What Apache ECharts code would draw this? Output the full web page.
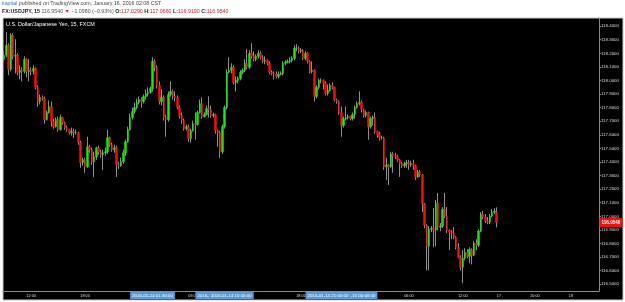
<!DOCTYPE html>
<html>
<head>
<meta charset="utf-8">
<script src="https://cdn.jsdelivr.net/npm/echarts@6/dist/echarts.min.js"></script>
<style>
html, body { margin: 0; padding: 0; background: #fff; }
#main { width: 625px; height: 302px; }
</style>
</head>
<body>
<div id="main"></div>
<script>
// USD/JPY 15 min candles
var opens = [
118.156,118.186,118.260,118.082,118.334,118.178,118.186,118.060,118.075,118.067,
118.156,118.067,118.075,118.067,118.089,117.949,117.845,117.875,117.867,117.712,
117.764,117.808,117.697,117.660,117.712,117.638,117.727,117.690,117.653,117.638,
117.616,117.623,117.616,117.616,117.542,117.394,117.416,117.364,117.512,117.490,
117.401,117.438,117.505,117.475,117.453,117.468,117.475,117.579,117.527,117.490,
117.505,117.379,117.372,117.401,117.468,117.549,117.638,117.727,117.771,117.801,
117.838,117.860,117.845,117.882,117.904,117.912,117.941,118.141,118.097,117.964,
117.845,117.875,117.727,117.712,117.897,117.919,117.882,117.875,117.801,117.742,
117.705,117.645,117.660,117.571,117.631,117.682,117.675,117.764,117.830,117.734,
117.749,117.793,117.786,117.742,117.749,117.631,117.616,117.475,117.660,117.801,
118.060,118.075,118.097,117.986,118.001,118.015,118.060,118.075,118.126,118.097,
118.200,118.178,118.156,118.178,118.200,118.171,118.141,118.149,118.126,118.060,
118.052,118.045,118.030,118.045,118.052,118.126,118.134,118.141,118.149,118.163,
118.237,118.237,118.215,118.223,118.163,118.200,118.141,118.067,118.075,117.882,
117.949,118.001,118.001,117.978,117.904,117.927,117.964,117.949,117.860,117.845,
117.764,117.668,117.719,117.727,117.734,117.719,117.749,117.801,117.830,117.838,
117.786,117.742,117.764,117.660,117.719,117.727,117.623,117.601,117.579,117.579,
117.364,117.379,117.364,117.460,117.446,117.438,117.416,117.386,117.372,117.386,
117.394,117.379,117.386,117.372,117.290,117.327,117.305,117.090,116.935,116.780,
116.905,116.913,116.898,117.098,116.920,116.928,117.053,117.002,116.898,116.883,
116.876,116.846,116.772,116.698,116.624,116.691,116.735,116.706,116.757,116.713,
116.802,116.787,116.891,117.016,116.994,116.965,116.957,117.002,117.031,117.029
];
var closes = [
118.186,118.260,118.082,118.334,118.178,118.186,118.060,118.075,118.067,118.156,
118.067,118.075,118.067,118.089,117.949,117.845,117.875,117.867,117.712,117.764,
117.808,117.697,117.660,117.712,117.638,117.727,117.690,117.653,117.638,117.616,
117.623,117.616,117.616,117.542,117.394,117.416,117.364,117.512,117.490,117.401,
117.438,117.505,117.475,117.453,117.468,117.475,117.579,117.527,117.490,117.505,
117.379,117.372,117.401,117.468,117.549,117.638,117.727,117.771,117.801,117.838,
117.860,117.845,117.882,117.904,117.912,117.941,118.141,118.097,117.964,117.845,
117.875,117.727,117.712,117.897,117.919,117.882,117.875,117.801,117.742,117.705,
117.645,117.660,117.571,117.631,117.682,117.675,117.764,117.830,117.734,117.749,
117.793,117.786,117.742,117.749,117.631,117.616,117.475,117.660,117.801,118.060,
118.075,118.097,117.986,118.001,118.015,118.060,118.075,118.126,118.097,118.200,
118.178,118.156,118.178,118.200,118.171,118.141,118.149,118.126,118.060,118.052,
118.045,118.030,118.045,118.052,118.126,118.134,118.141,118.149,118.163,118.237,
118.237,118.215,118.223,118.163,118.200,118.141,118.067,118.075,117.882,117.949,
118.001,118.001,117.978,117.904,117.927,117.964,117.949,117.860,117.845,117.764,
117.668,117.719,117.727,117.734,117.719,117.749,117.801,117.830,117.838,117.786,
117.742,117.764,117.660,117.719,117.727,117.623,117.601,117.579,117.579,117.364,
117.379,117.364,117.460,117.446,117.438,117.416,117.386,117.372,117.386,117.394,
117.379,117.386,117.372,117.290,117.327,117.305,117.090,116.935,116.780,116.905,
116.913,116.898,117.098,116.920,116.928,117.053,117.002,116.898,116.883,116.876,
116.846,116.772,116.698,116.624,116.691,116.735,116.706,116.757,116.713,116.802,
116.787,116.891,117.016,116.994,116.965,116.957,117.002,117.031,117.039,116.954
];
var highs = [
118.215,118.356,118.274,118.348,118.348,118.304,118.200,118.112,118.097,118.178,
118.163,118.156,118.097,118.112,118.097,117.964,117.897,117.890,117.882,117.779,
117.853,117.845,117.719,117.727,117.734,117.749,117.734,117.697,117.668,117.645,
117.653,117.645,117.638,117.623,117.557,117.431,117.431,117.586,117.527,117.505,
117.475,117.512,117.520,117.490,117.490,117.505,117.638,117.586,117.542,117.527,
117.520,117.401,117.431,117.490,117.564,117.660,117.756,117.801,117.838,117.867,
117.882,117.875,117.897,117.934,117.949,117.956,118.171,118.156,118.112,117.993,
117.934,117.890,117.749,117.919,117.993,117.934,117.919,117.890,117.816,117.764,
117.719,117.675,117.675,117.645,117.705,117.764,117.779,117.860,117.875,117.764,
117.816,117.882,117.816,117.764,117.756,117.638,117.631,117.675,117.816,118.082,
118.171,118.126,118.112,118.030,118.030,118.075,118.089,118.156,118.230,118.223,
118.274,118.215,118.193,118.223,118.215,118.186,118.178,118.156,118.141,118.075,
118.067,118.067,118.067,118.067,118.141,118.149,118.156,118.171,118.178,118.260,
118.267,118.252,118.237,118.230,118.215,118.208,118.149,118.141,118.082,117.964,
118.015,118.015,118.008,117.993,117.971,117.978,117.986,117.956,117.867,117.853,
117.808,117.734,117.808,117.749,117.742,117.764,117.816,117.845,117.919,117.853,
117.793,117.779,117.771,117.734,117.742,117.764,117.631,117.623,117.594,117.586,
117.431,117.386,117.475,117.475,117.468,117.453,117.423,117.401,117.401,117.416,
117.416,117.409,117.416,117.379,117.342,117.342,117.312,117.098,116.942,116.928,
116.928,117.061,117.120,117.172,116.950,117.068,117.172,117.068,116.905,116.898,
116.920,116.854,116.802,116.713,116.750,116.765,116.757,116.772,116.765,116.817,
116.831,116.905,117.031,117.039,117.016,116.994,117.016,117.053,117.061,117.066
];
var lows = [
118.141,118.171,118.038,118.067,118.156,118.052,118.038,118.008,117.993,118.052,
118.023,117.993,118.038,118.045,117.934,117.808,117.823,117.853,117.682,117.705,
117.756,117.660,117.645,117.653,117.623,117.631,117.675,117.638,117.623,117.601,
117.594,117.579,117.601,117.527,117.357,117.372,117.320,117.357,117.468,117.379,
117.290,117.416,117.453,117.431,117.342,117.446,117.460,117.512,117.475,117.468,
117.290,117.349,117.364,117.386,117.446,117.542,117.631,117.712,117.756,117.786,
117.823,117.801,117.830,117.860,117.882,117.904,117.919,118.067,117.941,117.823,
117.816,117.705,117.586,117.697,117.882,117.860,117.845,117.786,117.719,117.682,
117.631,117.631,117.549,117.542,117.623,117.564,117.668,117.756,117.719,117.727,
117.742,117.727,117.727,117.727,117.608,117.512,117.431,117.460,117.645,117.786,
118.052,118.052,117.971,117.919,117.978,118.001,118.045,118.060,118.082,118.082,
118.163,118.141,118.141,118.163,118.156,118.126,118.119,118.112,118.045,118.038,
118.008,118.015,118.015,118.038,118.038,118.112,118.126,118.126,118.134,118.149,
118.215,118.200,118.200,118.149,118.149,118.126,118.052,118.052,117.845,117.867,
117.934,117.978,117.934,117.890,117.890,117.919,117.934,117.845,117.830,117.749,
117.586,117.653,117.705,117.712,117.705,117.705,117.719,117.793,117.816,117.764,
117.727,117.727,117.564,117.645,117.668,117.608,117.579,117.557,117.564,117.342,
117.268,117.231,117.357,117.320,117.423,117.401,117.290,117.357,117.357,117.357,
117.342,117.364,117.342,117.268,117.283,117.290,117.031,116.913,116.602,116.602,
116.883,116.772,116.780,116.898,116.891,116.913,116.987,116.876,116.750,116.831,
116.831,116.757,116.691,116.602,116.506,116.676,116.691,116.654,116.646,116.706,
116.750,116.772,116.883,116.979,116.950,116.942,116.942,116.994,117.016,116.919
];

// price scale ticks
var yTicks = [116.5,116.6,116.7,116.8,116.9,117.0,117.1,117.2,117.3,117.4,
              117.5,117.6,117.7,117.8,117.9,118.0,118.1,118.2,118.3,118.4];

// time scale labels (slot index -> text)
var tickIdx  = [12, 36, 60, 84, 108, 132, 156, 180, 204, 220, 236, 252];
var tickText = ['12:00','18:00','14','06:00','12:00','18:00','15','06:00','12:00','17','20:00','18'];
// highlighted date labels
var hiIdxUnder = [95, 156];
var hiIdxTop   = [66, 101, 144];

var slotCount = 265;

function pad(n){ return n < 10 ? '0' + n : '' + n; }
function fmtTime(t){
    var d = new Date(t);
    return d.getUTCFullYear() + '-' + pad(d.getUTCMonth() + 1) + '-' + pad(d.getUTCDate()) + ' ' +
           pad(d.getUTCHours()) + ':' + pad(d.getUTCMinutes()) + ':00';
}

var times = [];
var t0 = Date.UTC(2016, 0, 13, 9, 0);
var t1 = Date.UTC(2016, 0, 17, 16, 0);
for (var i = 0; i < slotCount; i++) {
    if (i < closes.length) times.push(fmtTime(t0 + i * 900000));
    else times.push(fmtTime(t1 + (i - closes.length) * 900000));
}

// bodies drawn with no shadow, shadows drawn as gray dojis underneath
var bodies = [];
var wicks = [];
for (var i = 0; i < closes.length; i++) {
    bodies.push([opens[i], closes[i], Math.min(opens[i], closes[i]), Math.max(opens[i], closes[i])]);
    wicks.push([opens[i], opens[i], lows[i], highs[i]]);
}

var last = closes.length - 1;
var FONT = 'Liberation Sans, Arial, sans-serif';
var wickColor = '#8f8f8f';
var upColor = '#19e619';
var downColor = '#f01010';

function hiAxis(idxList, z){
    return {
        type: 'category',
        data: times,
        position: 'bottom',
        z: z,
        axisLine: { show: false },
        axisTick: { show: false },
        splitLine: { show: false },
        axisLabel: {
            interval: function(idx){ return idxList.indexOf(idx) >= 0; },
            formatter: function(v){ return v; },
            color: '#fff',
            fontSize: 4.4,
            fontFamily: FONT,
            backgroundColor: '#5b9bd5',
            padding: [2, 2, 1, 2],
            margin: 1
        }
    };
}

var myChart = echarts.init(document.getElementById('main'));
var option = {
    backgroundColor: '#ffffff',
    animation: false,
    graphic: [
        {
            type: 'rect', left: 2.5, top: 17.5, z: -1,
            shape: { width: 620, height: 282 },
            style: { fill: '#000', stroke: '#c8c8c8', lineWidth: 1 }
        },
        {
            type: 'text', left: 2, top: 1,
            style: {
                text: '{k|kapital} published on TradingView.com, January 16, 2016 02:08 CST',
                fill: '#444', fontSize: 5.3, fontFamily: FONT,
                rich: { k: { fill: '#3a7cc6', fontSize: 5.3, fontFamily: FONT } }
            }
        },
        {
            type: 'text', left: 2, top: 9,
            style: {
                text: '{b|FX:USDJPY, 15} {g|' + closes[last].toFixed(4) + '} {r|\u25BC} {g|\u22121.0980 (\u22120.93%)} ' +
                      '{b|O:}{r|' + opens[last].toFixed(4) + '} {b|H:}{r|' + highs[last].toFixed(4) + '} ' +
                      '{b|L:}{r|' + lows[last].toFixed(4) + '} {b|C:}{r|' + closes[last].toFixed(4) + '}',
                fill: '#333', fontSize: 5.3, fontFamily: FONT,
                rich: {
                    b: { fill: '#222', fontWeight: 'bold', fontSize: 5.3, fontFamily: FONT },
                    g: { fill: '#555', fontSize: 5.3, fontFamily: FONT },
                    r: { fill: '#c0262d', fontSize: 5.3, fontFamily: FONT }
                }
            }
        },
        {
            type: 'text', left: 6, top: 22,
            style: { text: 'U.S. Dollar/Japanese Yen, 15, FXCM', fill: '#fff', fontSize: 5.4, fontFamily: FONT }
        }
    ],
    grid: {
        left: 3, right: 26, top: 18, bottom: 11,
        containLabel: false,
        outerBoundsMode: 'none'
    },
    xAxis: [
        {
            type: 'category',
            data: times,
            boundaryGap: true,
            z: 0,
            axisLine: { lineStyle: { color: '#8a8a8a', width: 1 } },
            axisTick: {
                inside: true, length: 2, alignWithLabel: true,
                interval: function(idx){ return tickIdx.indexOf(idx) >= 0; },
                lineStyle: { color: '#8a8a8a' }
            },
            splitLine: { show: false },
            axisLabel: {
                interval: function(idx){ return tickIdx.indexOf(idx) >= 0; },
                formatter: function(v, idx){ return tickText[tickIdx.indexOf(idx)]; },
                color: '#ddd', fontSize: 3.8, fontFamily: FONT, margin: 3
            }
        },
        hiAxis(hiIdxUnder, 1),
        hiAxis(hiIdxTop, 2)
    ],
    yAxis: {
        type: 'value',
        position: 'right',
        min: 116.45,
        max: 118.46,
        scale: true,
        axisLine: { show: true, lineStyle: { color: '#8a8a8a', width: 1 } },
        axisTick: { show: true, length: 2, customValues: yTicks, lineStyle: { color: '#8a8a8a' } },
        splitLine: { show: false },
        axisLabel: {
            customValues: yTicks,
            formatter: function(v){ return v.toFixed(4); },
            color: '#ddd', fontSize: 4.4, fontFamily: FONT, margin: 2
        }
    },
    series: [
        {
            name: 'wick',
            type: 'candlestick',
            data: wicks,
            barWidth: 1,
            z: 2,
            itemStyle: {
                color: wickColor, color0: wickColor,
                borderColor: wickColor, borderColor0: wickColor,
                borderColorDoji: wickColor, borderWidth: 1
            }
        },
        {
            name: 'USDJPY',
            type: 'candlestick',
            data: bodies,
            barWidth: 2,
            z: 3,
            itemStyle: {
                color: upColor, color0: downColor,
                borderColor: upColor, borderColor0: downColor,
                borderColorDoji: upColor, borderWidth: 0.5
            }
        }
    ]
};
myChart.setOption(option);

// last price tag on the price scale
var tagY = myChart.convertToPixel({ yAxisIndex: 0 }, closes[last]);
var gridRight = 625 - 26;
option.graphic.push({
    type: 'text',
    x: gridRight + 0.5,
    y: tagY,
    z: 10,
    style: {
        text: closes[last].toFixed(4),
        fill: '#fff',
        fontSize: 4.6,
        fontWeight: 'bold',
        fontFamily: FONT,
        backgroundColor: downColor,
        padding: [2, 2, 2, 2],
        verticalAlign: 'middle',
        align: 'left'
    }
});
myChart.setOption({ graphic: option.graphic });
</script>
</body>
</html>
